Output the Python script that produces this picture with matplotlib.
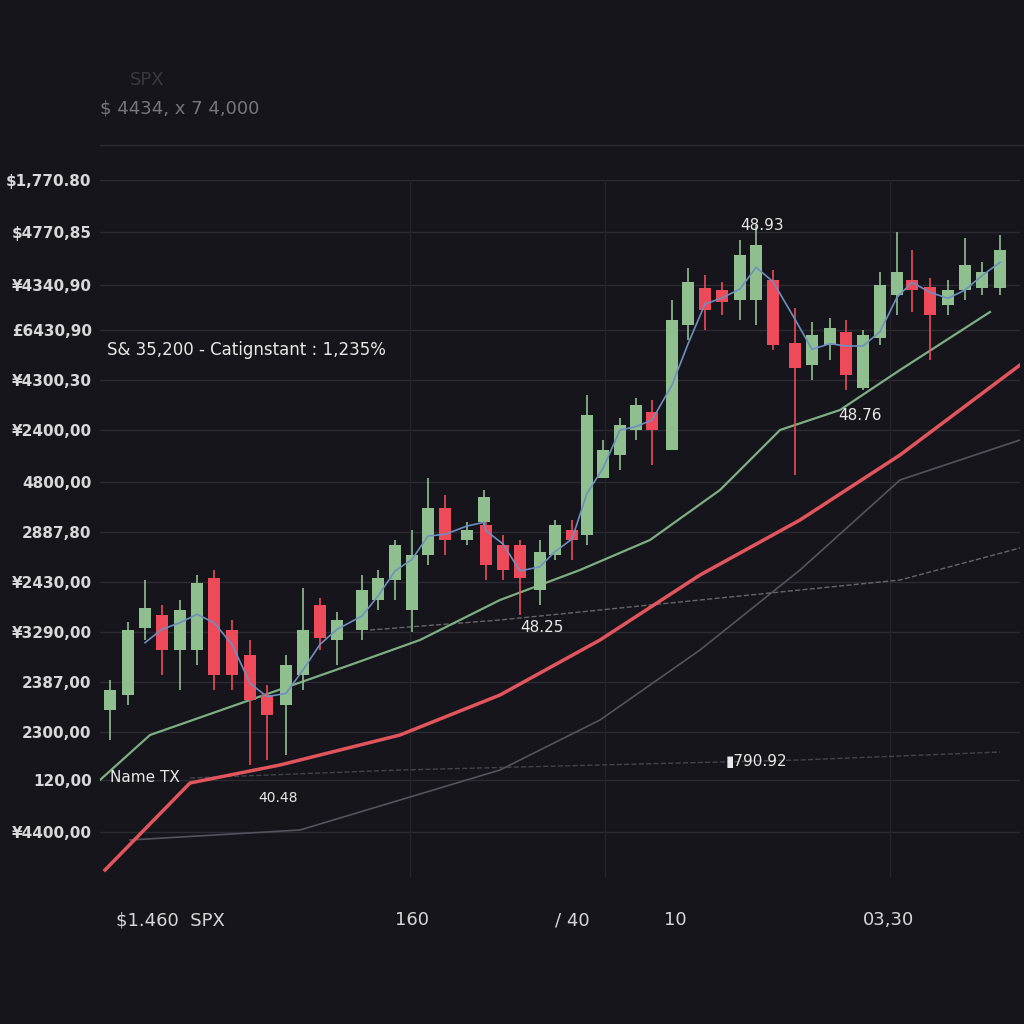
import matplotlib
matplotlib.use("Agg")
import matplotlib.pyplot as plt
import numpy as np

# ---- data (pixel-like units: x = time position, y = price level) ----
cx = [110,128,145,162,180,197,214,232,250,267,286,303,320,337,362,378,395,412,428,445,467,484,486,503,520,540,555,572,587,603,620,636,652,672,688,705,722,740,756,773,795,812,830,846,863,880,897,912,930,948,965,982,1000]
c_open  = [710,695,628,615,650,650,578,630,655,695,705,675,605,640,630,600,580,610,555,508,540,522,525,545,545,590,555,530,535,478,455,430,412,450,325,288,290,300,300,280,343,365,345,332,388,338,295,280,287,305,290,288,288]
c_close = [690,630,608,650,610,583,675,675,700,715,665,630,638,620,590,578,545,555,508,540,530,497,565,570,578,552,525,540,415,450,425,405,430,320,282,310,302,255,245,345,368,335,328,375,335,285,272,290,315,290,265,272,250]
c_high  = [680,622,580,605,600,575,570,620,640,685,655,588,598,612,575,570,540,530,478,495,522,490,515,535,540,540,520,520,395,440,418,398,400,300,268,275,282,240,225,270,308,322,318,320,330,272,232,250,278,280,238,262,235]
c_low   = [740,705,640,675,690,665,690,690,765,760,755,690,650,665,640,610,600,632,565,555,545,535,580,580,615,605,560,560,545,475,470,440,465,450,340,330,315,320,325,350,475,380,360,390,390,345,315,312,360,315,300,295,295]

red_x = [105,190,280,400,500,600,700,800,900,1020]
red_y = [870,783,765,735,695,640,575,520,455,365]
green_x = [100,150,250,350,420,500,580,650,720,780,840,900,990]
green_y = [780,735,700,665,640,600,570,540,490,430,410,370,312]
grey1_x = [130,300,500,600,700,800,900,1020]
grey1_y = [840,830,770,720,650,570,480,440]
grey2_x = [370,500,700,900,1020]
grey2_y = [630,620,600,580,548]
grey3_x = [190,400,600,800,1000]
grey3_y = [778,770,765,760,752]

ytick_pos = [180,232,285,330,380,430,482,532,582,632,682,732,780,832]
ytick_lab = ["$1,770.80","$4770,85","¥4340,90","£6430,90","¥4300,30","¥2400,00","4800,00","2887,80","¥2430,00","¥3290,00","2387,00","2300,00","120,00","¥4400,00"]
xtick_pos = [170,412,572,675,888]
xtick_lab = ["$1.460  SPX","160","/ 40","10","03,30"]

H = 878
def v(p): return H - np.asarray(p, dtype=float)

bg = "#16151b"
fig = plt.figure(figsize=(10.24,10.24), dpi=100, facecolor=bg)
ax = fig.add_axes([100/1024, (1024-878)/1024, 920/1024, (878-180)/1024], facecolor=bg)
ax.set_xlim(100,1020)
ax.set_ylim(0, H-180)

for p in ytick_pos:
    ax.axhline(v(p), color="#2c2b33", lw=1, zorder=0)
for xp in [410,605,890]:
    ax.axvline(xp, color="#24232a", lw=1, zorder=0)

ax.plot(grey1_x, v(grey1_y), color="#55545e", lw=1.2, zorder=1)
ax.plot(grey2_x, v(grey2_y), color="#66656e", lw=1, ls="--", zorder=1)
ax.plot(grey3_x, v(grey3_y), color="#44434c", lw=1, ls="--", zorder=1)
ax.plot(red_x, v(red_y), color="#e2555f", lw=2.5, zorder=2)
ax.plot(green_x, v(green_y), color="#7fae85", lw=1.6, zorder=2)

o, c, h, l = v(c_open), v(c_close), v(c_high), v(c_low)
for i, x in enumerate(cx):
    up = c[i] >= o[i]
    col = "#8fbf8f" if up else "#ee4a5a"
    ax.vlines(x, l[i], h[i], color=col, lw=1.2, zorder=3)
    ax.bar(x, abs(c[i]-o[i]), bottom=min(o[i], c[i]), width=12, color=col, zorder=4)

blue = np.convolve(c, np.ones(3)/3, mode="valid")
ax.plot(cx[2:], blue, color="#6e8fc0", lw=1.2, zorder=5)

ax.set_yticks(v(ytick_pos))
ax.set_yticklabels(ytick_lab)
ax.set_xticks(xtick_pos)
ax.set_xticklabels(xtick_lab)
ax.tick_params(axis="y", colors="#d8d8dc", labelsize=11, length=0, pad=6)
ax.tick_params(axis="x", colors="#d8d8dc", labelsize=13, length=0, pad=24)
for t in ax.get_yticklabels():
    t.set_fontweight("bold")
for s in ax.spines.values():
    s.set_visible(False)

tc = "#e8e8ea"
ax.text(740, v(225), "48.93", color=tc, fontsize=11, ha="left", va="center")
ax.text(838, v(415), "48.76", color=tc, fontsize=11, va="center")
ax.text(520, v(628), "48.25", color=tc, fontsize=11, va="center")
ax.text(726, v(762), "▮790.92", color=tc, fontsize=11, va="center")
ax.text(258, v(798), "40.48", color=tc, fontsize=10, va="center")
ax.text(110, v(778), "Name TX", color=tc, fontsize=11, va="center")
ax.text(107, v(350), "S& 35,200 - Catignstant : 1,235%", color=tc, fontsize=12, va="center")

fig.text(100/1024, 1-108/1024, "$ 4434, x 7 4,000", color="#77767e", fontsize=13, va="center")
fig.text(130/1024, 1-80/1024, "SPX", color="#3a3940", fontsize=13, va="center")
fig.add_artist(plt.Line2D([100/1024, 1], [1-145/1024]*2, color="#2c2b33", lw=1))

fig.savefig("out.png", dpi=100, facecolor=bg)
